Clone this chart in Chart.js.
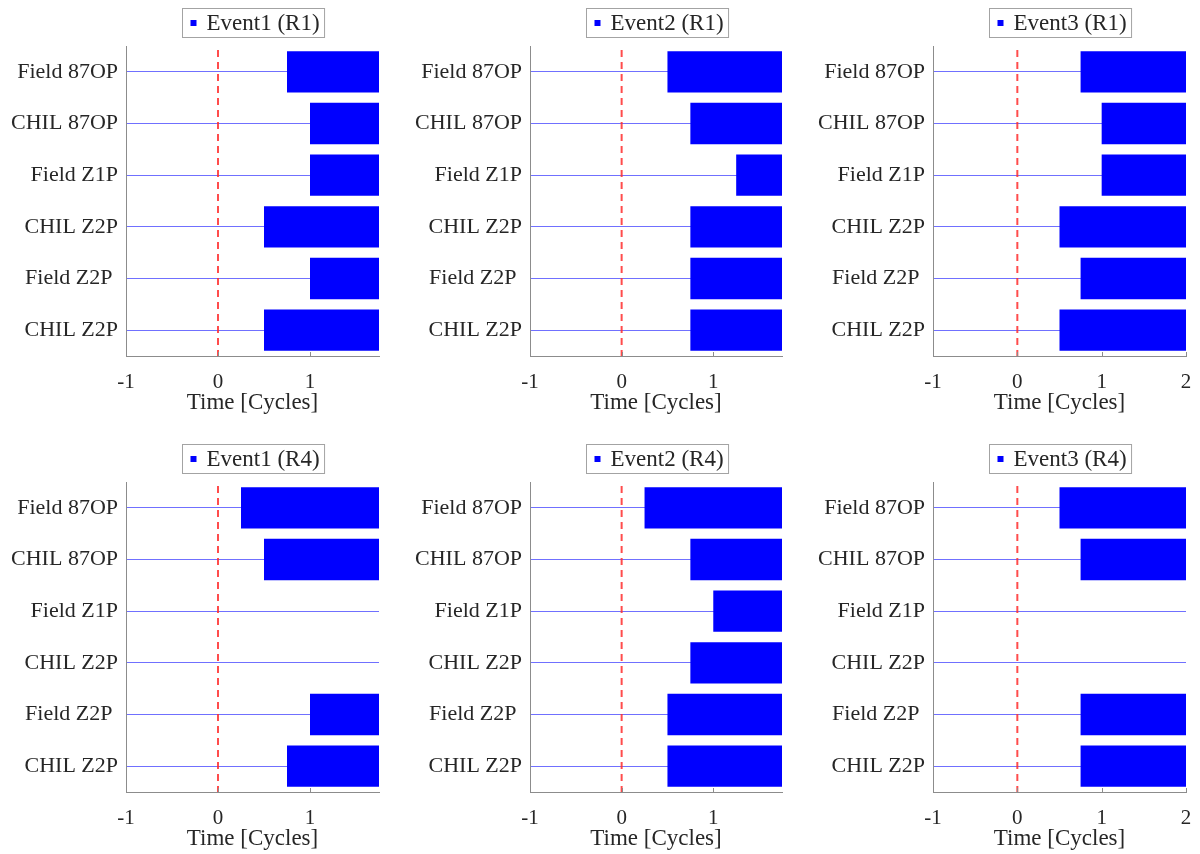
<!DOCTYPE html>
<html>
<head>
<meta charset="utf-8">
<title>Relay pickup timing</title>
<script src="https://cdn.jsdelivr.net/npm/chart.js@4/dist/chart.umd.min.js"></script>
<style>
  html, body { margin: 0; padding: 0; background: #ffffff; }
  body { width: 1200px; height: 854px; position: relative; overflow: hidden; }
  .panel { position: absolute; }
  .panel canvas { display: block; }
</style>
</head>
<body>
<div class="panel" style="left:0px;top:0px"><canvas id="r1e1" width="389" height="414"></canvas></div>
<div class="panel" style="left:404px;top:0px"><canvas id="r1e2" width="388" height="414"></canvas></div>
<div class="panel" style="left:807px;top:0px"><canvas id="r1e3" width="389" height="414"></canvas></div>
<div class="panel" style="left:0px;top:436px"><canvas id="r4e1" width="389" height="414"></canvas></div>
<div class="panel" style="left:404px;top:436px"><canvas id="r4e2" width="388" height="414"></canvas></div>
<div class="panel" style="left:807px;top:436px"><canvas id="r4e3" width="389" height="414"></canvas></div>

<script>
// Relay elements, listed top to bottom
const categories = ['Field 87OP', 'CHIL 87OP', 'Field Z1P', 'CHIL Z2P', 'Field Z2P ', 'CHIL Z2P'];

// Pickup start time of each element [cycles]; null = did not pick up
const startR1Event1 = [0.75, 1.0, 1.0, 0.5, 1.0, 0.5];
const startR1Event2 = [0.5, 0.75, 1.25, 0.75, 0.75, 0.75];
const startR1Event3 = [0.75, 1.0, 1.0, 0.5, 0.75, 0.5];
const startR4Event1 = [0.25, 0.5, null, null, 1.0, 0.75];
const startR4Event2 = [0.25, 0.75, 1.0, 0.75, 0.5, 0.5];
const startR4Event3 = [0.5, 0.75, null, null, 0.75, 0.75];

// Time axis limits per event column [cycles]
const timeMin = -1;
const timeMaxEvent = [1.75, 1.75, 2];
const timeTickStep = 1;

// Fault inception instant [cycles]
const faultTime = 0;

const xTitle = 'Time [Cycles]';

const SERIF = '"Liberation Serif", "Times New Roman", serif';
const TEXT = '#262626';
const AXIS = '#8c8c8c';
const BAR = '#0000ff';
const ROWLINE = '#7070ff';

// Boxed legend centred above the plot area
const boxedLegend = {
  id: 'boxedLegend',
  afterDraw(chart) {
    const ctx = chart.ctx;
    const area = chart.chartArea;
    const ds = chart.data.datasets[0];
    ctx.save();
    ctx.font = '23px ' + SERIF;
    const tw = ctx.measureText(ds.label).width;
    const w = 8 + 6 + 10 + tw + 5;
    const h = 29;
    const cx = (area.left + area.right) / 2 + 1;
    const x0 = Math.round(cx - w / 2) + 0.5;
    const y0 = area.top - 38 + 0.5;
    ctx.fillStyle = '#ffffff';
    ctx.fillRect(x0, y0, w, h);
    ctx.strokeStyle = '#a3a3a3';
    ctx.lineWidth = 1;
    ctx.strokeRect(x0, y0, w, h);
    ctx.fillStyle = ds.backgroundColor;
    ctx.fillRect(x0 + 8, y0 + h / 2 - 3, 6, 6);
    ctx.fillStyle = TEXT;
    ctx.textBaseline = 'middle';
    ctx.textAlign = 'left';
    ctx.fillText(ds.label, x0 + 24, y0 + h / 2 + 1);
    ctx.restore();
  }
};

// Dashed vertical marker at the fault instant
const faultMarker = {
  id: 'faultMarker',
  afterDatasetsDraw(chart) {
    const xs = chart.scales.x;
    const area = chart.chartArea;
    const px = xs.getPixelForValue(faultTime);
    const ctx = chart.ctx;
    ctx.save();
    ctx.strokeStyle = 'rgba(255, 45, 45, 0.85)';
    ctx.lineWidth = 2;
    ctx.setLineDash([7, 5]);
    ctx.beginPath();
    ctx.moveTo(px, area.top + 4);
    ctx.lineTo(px, area.bottom);
    ctx.stroke();
    ctx.restore();
  }
};

// Short inward tick marks on the time axis
const innerTicks = {
  id: 'innerTicks',
  afterDraw(chart) {
    const xs = chart.scales.x;
    const area = chart.chartArea;
    const ctx = chart.ctx;
    ctx.save();
    ctx.strokeStyle = AXIS;
    ctx.lineWidth = 1;
    xs.ticks.forEach(t => {
      const px = Math.round(xs.getPixelForValue(t.value)) + 0.5;
      ctx.beginPath();
      ctx.moveTo(px, area.bottom);
      ctx.lineTo(px, area.bottom - 4);
      ctx.stroke();
    });
    ctx.restore();
  }
};

function makePanel(id, label, starts, xMax) {
  new Chart(document.getElementById(id), {
    type: 'bar',
    data: {
      labels: categories,
      datasets: [{
        label: label,
        data: starts.map(s => (s === null ? null : [s, xMax])),
        backgroundColor: BAR,
        borderWidth: 0,
        categoryPercentage: 1.0,
        barPercentage: 0.8
      }]
    },
    options: {
      indexAxis: 'y',
      responsive: false,
      animation: false,
      events: [],
      layout: { padding: { top: 46, left: 0, right: 10, bottom: 0 } },
      plugins: {
        legend: { display: false },
        tooltip: { enabled: false },
        title: { display: false }
      },
      scales: {
        y: {
          type: 'category',
          offset: true,
          grid: { display: true, offset: false, color: ROWLINE, lineWidth: 1, drawTicks: false },
          border: { display: true, color: AXIS, width: 1 },
          ticks: {
            color: TEXT,
            autoSkip: false,
            padding: 8,
            font: { family: SERIF, size: 22, lineHeight: 1 }
          },
          afterFit(s) { s.width = 126; }
        },
        x: {
          type: 'linear',
          min: timeMin,
          max: xMax,
          grid: { display: false },
          border: { display: true, color: AXIS, width: 1 },
          ticks: {
            stepSize: timeTickStep,
            includeBounds: false,
            color: TEXT,
            padding: 8,
            maxRotation: 0,
            font: { family: SERIF, size: 21, lineHeight: 1 }
          },
          title: {
            display: true,
            text: xTitle,
            color: TEXT,
            padding: { top: 0, bottom: 0 },
            font: { family: SERIF, size: 23, lineHeight: 1 }
          },
          afterFit(s) {
            s.height = 58;
            s.paddingLeft = 0;
            s.paddingRight = 0;
          }
        }
      }
    },
    plugins: [boxedLegend, faultMarker, innerTicks]
  });
}

makePanel('r1e1', 'Event1 (R1)', startR1Event1, timeMaxEvent[0]);
makePanel('r1e2', 'Event2 (R1)', startR1Event2, timeMaxEvent[1]);
makePanel('r1e3', 'Event3 (R1)', startR1Event3, timeMaxEvent[2]);
makePanel('r4e1', 'Event1 (R4)', startR4Event1, timeMaxEvent[0]);
makePanel('r4e2', 'Event2 (R4)', startR4Event2, timeMaxEvent[1]);
makePanel('r4e3', 'Event3 (R4)', startR4Event3, timeMaxEvent[2]);
</script>
</body>
</html>
